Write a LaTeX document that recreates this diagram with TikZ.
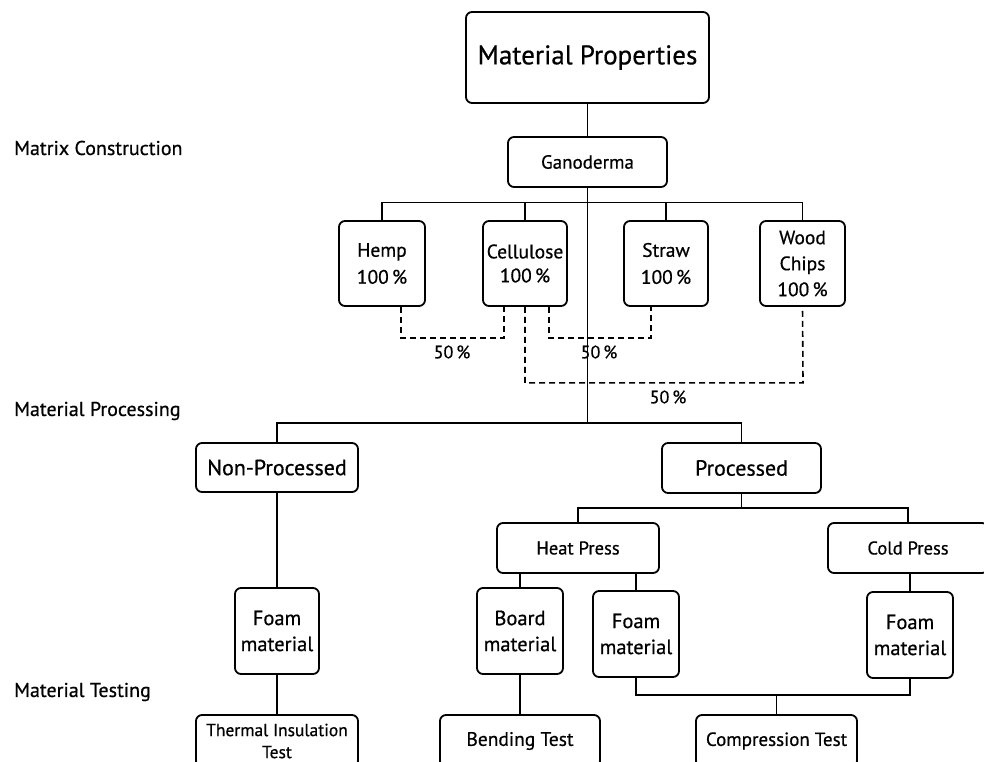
\documentclass[tikz,border=0pt]{standalone}
\usepackage{fontspec}
\setmainfont{PT Sans}[FakeBold=0.6]
\begin{document}
\begin{tikzpicture}[x=1pt,y=-1pt,
  box/.style={draw=black, line width=1.8pt, rounded corners=6pt, inner sep=0pt, align=center, text=black},
  conn/.style={draw=black, line width=1.7pt},
  dconn/.style={draw=black, line width=1.6pt, dash pattern=on 6pt off 4pt},
  side/.style={anchor=west, inner sep=0pt, font=\fontsize{20}{24}\selectfont},
  pct/.style={inner sep=0pt, font=\fontsize{18}{22}\selectfont}]
\useasboundingbox (0,0) rectangle (984,762);
\clip (0,0) rectangle (984,762);
% side labels
\node[side] (lmc) at (14,148) {Matrix Construction};
\node[side] (lmp) at (14,411) {Material Processing};
\node[side] (lmt) at (14,692) {Material Testing};
% nodes
\node[box, minimum width=243pt, minimum height=91pt, font=\fontsize{27}{30}\selectfont] (mp) at (587.5,57.5) {Material Properties};
\node[box, minimum width=159pt, minimum height=50pt, font=\fontsize{19}{22}\selectfont] (gan) at (587.5,162) {Ganoderma};
\node[box, minimum width=86pt, minimum height=85pt, font=\fontsize{19.5}{27}\selectfont] (hemp) at (382,263.5) {Hemp\\100\,\%};
\node[box, minimum width=84pt, minimum height=85pt, font=\fontsize{19.5}{26}\selectfont] (cell) at (525,263.5) {Cellulose\\[-2pt]100\,\%};
\node[box, minimum width=84pt, minimum height=85pt, font=\fontsize{19.5}{27}\selectfont] (straw) at (666,263.5) {Straw\\100\,\%};
\node[box, minimum width=85pt, minimum height=85pt, font=\fontsize{19.5}{26}\selectfont] (wood) at (802.5,263.5) {Wood\\Chips\\100\,\%};
\node[box, minimum width=162pt, minimum height=49pt, font=\fontsize{22}{26}\selectfont] (nonp) at (277,467.5) {Non-Processed};
\node[box, minimum width=159pt, minimum height=50pt, font=\fontsize{22}{26}\selectfont] (proc) at (741.5,468) {Processed};
\node[box, minimum width=162pt, minimum height=50pt, font=\fontsize{18.5}{22}\selectfont] (heat) at (578,548) {Heat Press};
\node[box, minimum width=160pt, minimum height=50pt, font=\fontsize{18.5}{22}\selectfont] (cold) at (908,548) {Cold Press};
\node[box, minimum width=84pt, minimum height=86pt, font=\fontsize{20.5}{26}\selectfont] (foamL) at (277,631) {Foam\\material};
\node[box, minimum width=86pt, minimum height=86pt, font=\fontsize{20.5}{26}\selectfont] (board) at (520,631) {Board\\material};
\node[box, minimum width=86pt, minimum height=86pt, font=\fontsize{20.5}{26}\selectfont] (foamM) at (636,634) {Foam\\material};
\node[box, minimum width=86pt, minimum height=86pt, font=\fontsize{20.5}{26}\selectfont] (foamR) at (910,635) {Foam\\material};
\node[box, minimum width=162pt, minimum height=52pt, font=\fontsize{17.5}{22}\selectfont] (therm) at (277,741) {Thermal Insulation\\Test};
\node[box, minimum width=160pt, minimum height=52pt, font=\fontsize{19.5}{22}\selectfont] (bend) at (520,741) {Bending Test};
\node[box, minimum width=161pt, minimum height=52pt, font=\fontsize{19}{22}\selectfont] (comp) at (776.5,741) {Compression Test};
% coordinates
\coordinate (c1) at (587.5,423);
\coordinate (c2) at (741.5,508);
\coordinate (c3) at (776.5,695);
% solid connectors
\draw[conn] (mp.south) -- (gan.north);
\draw[conn] (gan.south) -- (c1);
\draw[conn] (hemp.north) -- ++(0,-17.5) -| (wood.north);
\draw[conn] (cell.north) -- ++(0,-17.5);
\draw[conn] (straw.north) -- ++(0,-17.5);
\draw[conn] (nonp.north) |- (c1) -| (proc.north);
\draw[conn] (proc.south) -- (c2);
\draw[conn] (heat.north) |- (c2) -| (cold.north);
\draw[conn] (heat.south -| board.north) -- (board.north);
\draw[conn] (heat.south -| foamM.north) -- (foamM.north);
\draw[conn] (cold.south -| foamR.north) -- (foamR.north);
\draw[conn] (nonp.south) -- (foamL.north);
\draw[conn] (foamL.south) -- (therm.north);
\draw[conn] (board.south) -- (bend.north);
\draw[conn] (foamM.south) |- (c3) -| (foamR.south);
\draw[conn] (c3) -- (comp.north);
% dashed connectors
\draw[dconn] ([xshift=19pt]hemp.south) |- ++(103,31) -- ([xshift=-21pt]cell.south);
\draw[dconn] (cell.south) |- ++(278,76) -- (wood.south);
\draw[dconn] ([xshift=24pt]cell.south) |- ++(102,31) -- ([xshift=-15pt]straw.south);
% percentages
\node[pct] (p1) at (452,352) {50\,\%};
\node[pct] (p2) at (599,352) {50\,\%};
\node[pct] (p3) at (668,397) {50\,\%};
\end{tikzpicture}
\end{document}
